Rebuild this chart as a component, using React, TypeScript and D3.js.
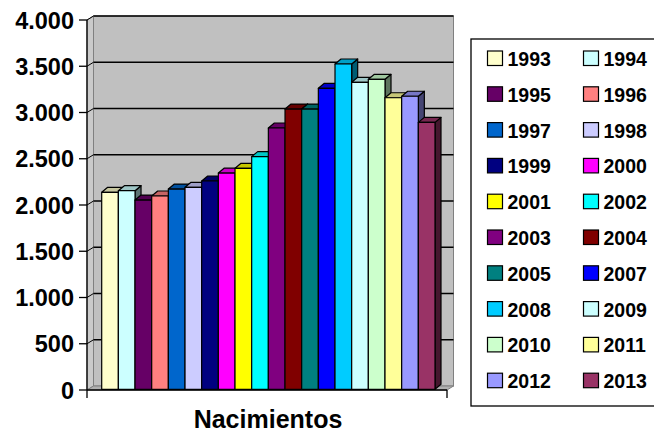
import React from 'react';
import * as d3 from 'd3';

const years = ['1993','1994','1995','1996','1997','1998','1999','2000','2001','2002','2003','2004','2005','2007','2008','2009','2010','2011','2012','2013'];
const values = [2130,2147,2046,2090,2165,2184,2252,2338,2389,2515,2825,3030,3030,3254,3517,3319,3351,3152,3168,2886];
const colors = ['#FFFFCC','#CCFFFF','#660066','#FF8080','#0066CC','#CCCCFF','#000080','#FF00FF','#FFFF00','#00FFFF','#800080','#800000','#008080','#0000FF','#00CCFF','#CCFFFF','#CCFFCC','#FFFF99','#9999FF','#993366'];
const yTicks = [0,500,1000,1500,2000,2500,3000,3500,4000];
const yTickLabels = ['0','500','1.000','1.500','2.000','2.500','3.000','3.500','4.000'];
const categoryTitle = 'Nacimientos';

const FONT = 'Arial, "Liberation Sans", sans-serif';

function shade(c: string, k: number) {
  const r = d3.rgb(c);
  return d3.rgb(r.r * k, r.g * k, r.b * k).formatHex();
}

export default function App() {
  const W = 654, H = 437;
  const fx0 = 87, fx1 = 447;
  const wdx = 6.5, wdy = -4;
  const bdx = 6, bdy = -5;
  const yFront = d3.scaleLinear().domain([0, 4000]).range([390, 20]);
  const yBar = d3.scaleLinear().domain([0, 4000]).range([389.3, 19.3]);
  const xBand = d3.scaleBand<string>().domain(years).range([101.7, 435]).padding(0);
  const bw = xBand.bandwidth();

  const y0 = yFront(0), yT = yFront(4000);
  const bx0 = fx0 + wdx, bx1 = fx1 + wdx;

  const lgX = 471, lgY = 39, lgW = 200, lgH = 367;
  const rowH = 35.8;
  const colX = [487.5, 583.5];

  return (
    <svg width={W} height={H} viewBox={`0 0 ${W} ${H}`} style={{ position: 'absolute', left: 0, top: 0, background: '#fff' }}>
      <rect x={bx0} y={yT + wdy} width={bx1 - bx0} height={y0 - yT} fill="#C0C0C0" stroke="#808080" strokeWidth={1} />
      <polygon points={`${fx0},${yT} ${bx0},${yT + wdy} ${bx0},${y0 + wdy} ${fx0},${y0}`} fill="#CACACA" stroke="#808080" strokeWidth={1} />
      <polygon points={`${fx0},${y0} ${bx0},${y0 + wdy} ${bx1},${y0 + wdy} ${fx1},${y0}`} fill="#B0B0B0" stroke="#808080" strokeWidth={1} />
      {yTicks.slice(1).map((t) => (
        <g key={t}>
          <line x1={bx0} x2={bx1} y1={yFront(t) + wdy} y2={yFront(t) + wdy} stroke="#000" strokeWidth={1.3} />
          <line x1={fx0} x2={bx0} y1={yFront(t)} y2={yFront(t) + wdy} stroke="#000" strokeWidth={1} />
        </g>
      ))}
      {years.map((yr, i) => {
        const x = xBand(yr)!;
        const yt = yBar(values[i]);
        const yb = yBar(0);
        const c = colors[i];
        return (
          <g key={yr} stroke="#000" strokeWidth={1.2} strokeLinejoin="round">
            <polygon points={`${x + bw},${yt} ${x + bw + bdx},${yt + bdy} ${x + bw + bdx},${yb + bdy} ${x + bw},${yb}`} fill={shade(c, 0.45)} />
            <polygon points={`${x},${yt} ${x + bdx},${yt + bdy} ${x + bw + bdx},${yt + bdy} ${x + bw},${yt}`} fill={shade(c, 0.78)} />
            <rect x={x} y={yt} width={bw} height={yb - yt} fill={c} />
          </g>
        );
      })}
      <line x1={fx0} x2={fx0} y1={yT} y2={y0} stroke="#000" strokeWidth={1.3} />
      {yTicks.map((t, i) => (
        <g key={t}>
          <line x1={fx0 - 8} x2={fx0} y1={yFront(t)} y2={yFront(t)} stroke="#000" strokeWidth={1.3} />
          <text x={74} y={yFront(t) + 8.5} textAnchor="end" fontFamily={FONT} fontWeight="bold" fontSize={23.5} fill="#000">{yTickLabels[i]}</text>
        </g>
      ))}
      <line x1={fx0} x2={fx1} y1={y0} y2={y0} stroke="#000" strokeWidth={1.3} />
      <line x1={fx0} x2={fx0} y1={y0} y2={y0 + 8} stroke="#000" strokeWidth={1.3} />
      <line x1={fx1} x2={fx1} y1={y0} y2={y0 + 8} stroke="#000" strokeWidth={1.3} />
      <text x={268} y={428} textAnchor="middle" fontFamily={FONT} fontWeight="bold" fontSize={25} fill="#000">{categoryTitle}</text>
      <rect x={lgX} y={lgY} width={lgW} height={lgH} fill="#fff" stroke="#000" strokeWidth={1.3} />
      {years.map((yr, i) => {
        const col = i % 2;
        const row = Math.floor(i / 2);
        const sx = colX[col];
        const sy = 51 + row * rowH;
        return (
          <g key={yr}>
            <rect x={sx} y={sy} width={15} height={14.5} fill={colors[i]} stroke="#000" strokeWidth={1.2} />
            <text x={sx + 20} y={sy + 15} fontFamily={FONT} fontWeight="bold" fontSize={19.5} fill="#000">{yr}</text>
          </g>
        );
      })}
    </svg>
  );
}
